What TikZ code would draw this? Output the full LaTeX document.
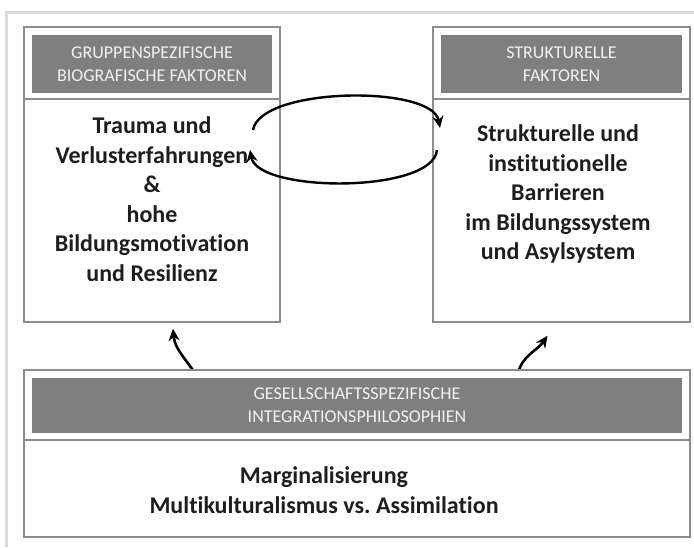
\documentclass[tikz,border=0pt]{standalone}
\usepackage{fontspec}
\setmainfont{Carlito}[Ligatures=NoCommon]
\frenchspacing
\definecolor{headgray}{HTML}{7F7F7F}
\definecolor{framegray}{HTML}{DADADA}
\definecolor{boxgray}{HTML}{8C8C8C}
\definecolor{inkgray}{HTML}{1E1E1E}
\usetikzlibrary{positioning, calc, arrows.meta}
\tikzset{
	boxnode/.style={
			rectangle,
			draw=boxgray,
			line width=1.6pt,
			fill=white,
			inner sep=0pt
		},
	headnode/.style={
			rectangle,
			fill=headgray,
			text=white!95!black,
			font=\fontsize{18}{23}\selectfont,
			align=center,
			inner sep=0pt
		},
	bodytext/.style={
			align=center,
			text=inkgray,
			font=\fontsize{24}{29.5}\selectfont\bfseries,
			inner sep=0pt
		},
	cyclearrow/.style={
			line width=2.4pt,
			-{Stealth[length=12pt,width=11pt]},
			looseness=0.6
		},
	risearrow/.style={
			line width=2.6pt,
			-{Stealth[length=12pt,width=11pt]}
		}
}

\begin{document}
\begin{tikzpicture}[x=1pt, y=1pt]
\useasboundingbox (0,0) rectangle (694,547);
\draw[framegray, line width=3pt] (6,0) -- (6,534) -- (694,534);

\node[boxnode, minimum width=256pt, minimum height=295pt] (boxL) at (152,372.5) {};
\node[boxnode, minimum width=257pt, minimum height=295pt] (boxR) at (561.5,372.5) {};

\coordinate (riseL) at (195,174);
\coordinate (riseR) at (518,174);
\draw[risearrow] (riseL) to[out=125, in=-85] ($(boxL.south)+(21,-6)$);
\draw[risearrow] (riseR) to[out=75, in=-125] ($(boxR.south)+(-14,-13)$);

\node[boxnode, minimum width=666pt, minimum height=167pt] (boxB) at (357,93.5) {};

\node[headnode, minimum width=240pt, minimum height=58pt] (headL) at (152,483)
	{GRUPPENSPEZIFISCHE\\BIOGRAFISCHE FAKTOREN};
\node[headnode, minimum width=241pt, minimum height=58pt] (headR) at (561.5,483)
	{STRUKTURELLE\\FAKTOREN};
\node[headnode, minimum width=650pt, minimum height=55pt] (headB) at (357,141.5)
	{GESELLSCHAFTSSPEZIFISCHE\\INTEGRATIONSPHILOSOPHIEN};

\draw[boxgray, line width=1.6pt] (boxL.west |- 0,448) -- (boxL.east |- 0,448);
\draw[boxgray, line width=1.6pt] (boxR.west |- 0,448) -- (boxR.east |- 0,448);
\draw[boxgray, line width=1.6pt] (boxB.west |- 0,107) -- (boxB.east |- 0,107);

\node[bodytext] (textL) at (152,348)
	{Trauma und\\Verlusterfahrungen\\\&\\hohe\\Bildungsmotivation\\und Resilienz};
\node[bodytext] (textR) at (558,353)
	{Strukturelle und\\institutionelle\\Barrieren\\im Bildungssystem\\und Asylsystem};
\node[bodytext] (textB) at (324,57)
	{Marginalisierung\\Multikulturalismus vs. Assimilation};

\coordinate (cycL1) at (253,417);
\coordinate (cycR1) at (440,419);
\coordinate (cycR2) at (437,397);
\coordinate (cycL2) at (250,397);
\draw[cyclearrow] (cycL1) to[out=80, in=100] (cycR1);
\draw[cyclearrow] (cycR2) to[out=-95, in=-80] (cycL2);
\end{tikzpicture}
\end{document}
